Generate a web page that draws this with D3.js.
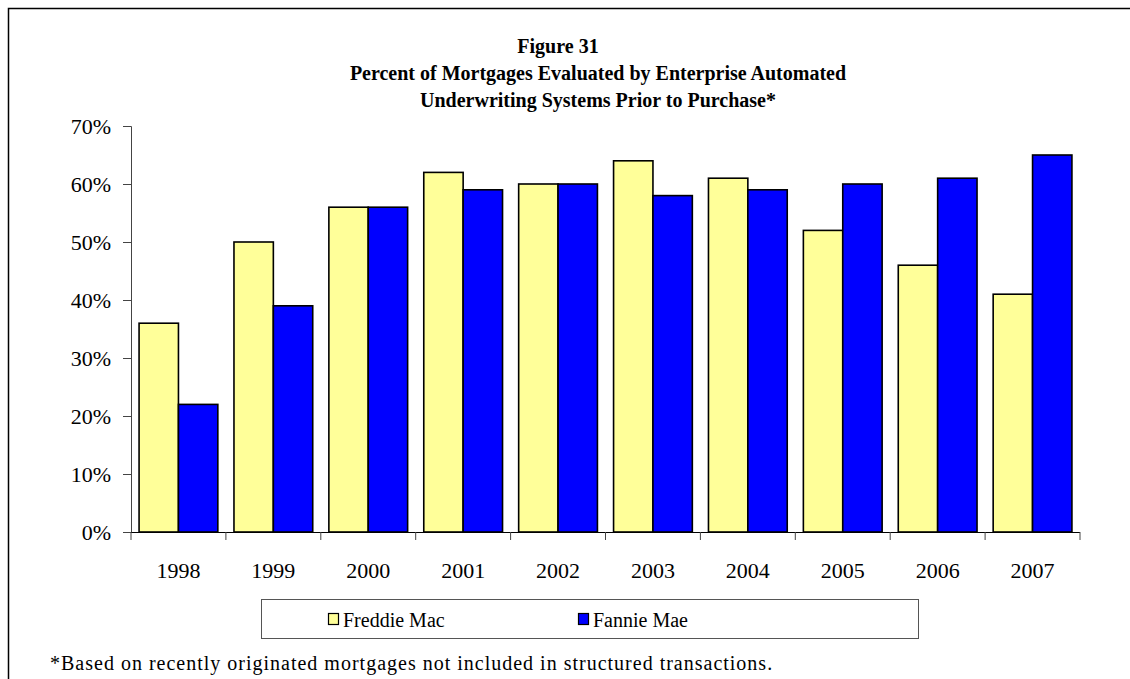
<!DOCTYPE html>
<html>
  <head>
    <meta charset="UTF-8" />
    <style>
      body {
        margin: 0;
        background-color: #fff;
      }
      text {
        font-family: 'Liberation Serif', 'DejaVu Serif', serif;
      }
    </style>
  </head>
  <body>
    <svg></svg>

    <script src="https://d3js.org/d3.v7.min.js"></script>

    <script>
      // data
      let years = ['1998', '1999', '2000', '2001', '2002', '2003', '2004', '2005', '2006', '2007']
      let freddie = [36, 50, 56, 62, 60, 64, 61, 52, 46, 41]
      let fannie = [22, 39, 56, 59, 60, 58, 59, 60, 61, 65]
      let seriesNames = ['Freddie Mac', 'Fannie Mae']
      let seriesColors = ['#FFFF99', '#0000FF']
      let yTicks = [0, 10, 20, 30, 40, 50, 60, 70]
      let titleLines = [
        'Figure 31',
        'Percent of Mortgages Evaluated by Enterprise Automated',
        'Underwriting Systems Prior to Purchase*'
      ]
      let footnote = '*Based on recently originated mortgages not included in structured transactions.'

      let width = 1130,
        height = 679

      let svg = d3.select('svg').attr('width', width).attr('height', height)

      // outer frame (runs off the right and bottom edges)
      svg
        .append('rect')
        .attr('x', 8.5)
        .attr('y', 8.5)
        .attr('width', 1200)
        .attr('height', 700)
        .attr('fill', 'none')
        .attr('stroke', '#000')
        .attr('stroke-width', 1.5)

      let plotLeft = 131,
        plotRight = 1080,
        plotTop = 126,
        plotBottom = 532

      let x = d3.scaleBand().domain(years).range([plotLeft, plotRight]).paddingInner(0.17).paddingOuter(0.085)
      let xs = d3.scaleBand().domain([0, 1]).range([0, x.bandwidth()])
      let y = d3.scaleLinear().domain([0, 70]).range([plotBottom, plotTop])

      // title
      svg
        .append('g')
        .selectAll('text')
        .data(titleLines)
        .enter()
        .append('text')
        .attr('x', (d, i) => (i == 0 ? 558 : 598))
        .attr('y', (d, i) => 53 + i * 27)
        .attr('text-anchor', 'middle')
        .attr('font-weight', 'bold')
        .attr('font-size', 20)
        .text((d) => d)

      // bars
      let table = years.map((yr, i) => ({ year: yr, values: [freddie[i], fannie[i]] }))
      svg
        .append('g')
        .selectAll('g')
        .data(table)
        .enter()
        .append('g')
        .attr('transform', (d) => 'translate(' + x(d.year) + ',0)')
        .selectAll('rect')
        .data((d) => d.values)
        .enter()
        .append('rect')
        .attr('x', (d, i) => xs(i))
        .attr('y', (d) => y(d))
        .attr('width', xs.bandwidth())
        .attr('height', (d) => plotBottom - y(d))
        .attr('fill', (d, i) => seriesColors[i])
        .attr('stroke', '#000')
        .attr('stroke-width', 1.6)

      // y axis
      let yAxis = svg
        .append('g')
        .attr('transform', 'translate(' + plotLeft + ',0)')
        .call(
          d3
            .axisLeft(y)
            .tickValues(yTicks)
            .tickSize(8)
            .tickPadding(12)
            .tickFormat((d) => d + '%')
        )
      yAxis.select('.domain').attr('stroke', '#444')
      yAxis.selectAll('.tick line').attr('stroke', '#444')
      yAxis.selectAll('text').attr('font-size', 22).attr('font-family', 'Liberation Serif').attr('fill', '#000')

      // x axis, ticks at category boundaries
      let boundaries = years.map((yr) => x(yr) - (x.step() - x.bandwidth()) / 2).concat([plotRight])
      let xAxis = svg.append('g')
      xAxis
        .append('line')
        .attr('x1', plotLeft)
        .attr('x2', plotRight)
        .attr('y1', plotBottom + 0.5)
        .attr('y2', plotBottom + 0.5)
        .attr('stroke', '#000')
      xAxis
        .selectAll('line.tk')
        .data(boundaries)
        .enter()
        .append('line')
        .attr('class', 'tk')
        .attr('x1', (d) => d)
        .attr('x2', (d) => d)
        .attr('y1', plotBottom)
        .attr('y2', plotBottom + 8)
        .attr('stroke', '#444')
      xAxis
        .selectAll('text')
        .data(years)
        .enter()
        .append('text')
        .attr('x', (d) => x(d) + x.bandwidth() / 2)
        .attr('y', 578)
        .attr('text-anchor', 'middle')
        .attr('font-size', 22)
        .text((d) => d)

      // legend
      let legend = svg.append('g')
      legend
        .append('rect')
        .attr('x', 261.5)
        .attr('y', 599.5)
        .attr('width', 657)
        .attr('height', 39)
        .attr('fill', '#fff')
        .attr('stroke', '#555')
      let legendX = [328, 578]
      let items = legend
        .selectAll('g')
        .data(seriesNames)
        .enter()
        .append('g')
        .attr('transform', (d, i) => 'translate(' + legendX[i] + ',0)')
      items
        .append('rect')
        .attr('x', 0.5)
        .attr('y', 613.5)
        .attr('width', 10)
        .attr('height', 11)
        .attr('fill', (d, i) => seriesColors[i])
        .attr('stroke', '#000')
        .attr('stroke-width', 1.2)
      items
        .append('text')
        .attr('x', 15)
        .attr('y', 627)
        .attr('font-size', 20)
        .text((d) => d)

      // footnote
      svg
        .append('text')
        .attr('x', 50)
        .attr('y', 670)
        .attr('font-size', 20)
        .attr('letter-spacing', 1)
        .text(footnote)
    </script>
  </body>
</html>
